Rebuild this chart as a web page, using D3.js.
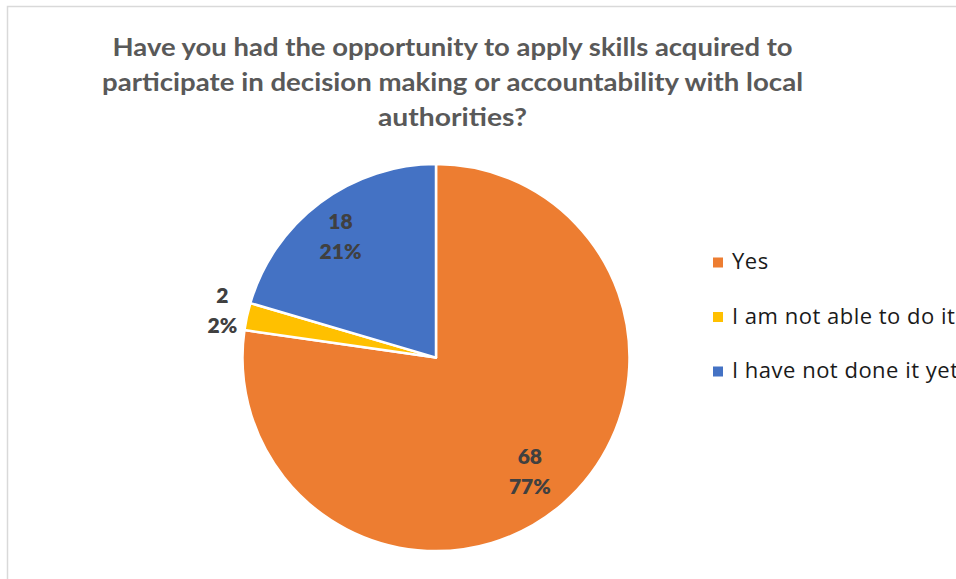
<!DOCTYPE html>
<html>
<head>
<meta charset="utf-8">
<script src="https://cdn.jsdelivr.net/npm/d3@7"></script>
<style>
  html, body { margin: 0; padding: 0; background: #fff; overflow: hidden; }
  svg { display: block; }
</style>
</head>
<body>
<svg id="chart" width="956" height="579"></svg>
<script>
// Survey answers and counts
const categories = ["Yes", "I am not able to do it", "I have not done it yet"];
const counts = [68, 2, 18];
const colors = ["#ED7D31", "#FFC000", "#4472C4"];
const titleLines = [
  "Have you had the opportunity to apply skills acquired to",
  "participate in decision making or accountability with local",
  "authorities?"
];
// slices whose labels sit outside the pie
const outsideLabel = [false, true, false];

// Whole-number percentages that add up to 100 (largest remainder)
function percentLabels(vals) {
  const total = d3.sum(vals);
  const raw = vals.map(v => v / total * 100);
  const fl = raw.map(Math.floor);
  let left = 100 - d3.sum(fl);
  const order = raw.map((r, i) => [r - fl[i], i]).sort((a, b) => b[0] - a[0]);
  for (let k = 0; k < left; k++) fl[order[k][1]] += 1;
  return fl.map(p => p + "%");
}
const percents = percentLabels(counts);

const svg = d3.select("#chart");

// chart frame
svg.append("rect")
  .attr("x", 7.5).attr("y", 6.5)
  .attr("width", 1200).attr("height", 1200)
  .attr("fill", "#fff")
  .attr("stroke", "#d9d9d9").attr("stroke-width", 1.5);

// title
const titleFont = "Lato, 'Open Sans', sans-serif";
const titleWidths = [680, 701, 149];
const title = svg.append("g");
titleLines.forEach((t, i) => {
  title.append("text")
    .attr("x", 452.5)
    .attr("y", 56 + i * 35)
    .attr("text-anchor", "middle")
    .attr("font-family", titleFont)
    .attr("font-weight", 700)
    .attr("font-size", 25)
    .attr("fill", "#595959")
    .attr("textLength", titleWidths[i])
    .attr("lengthAdjust", "spacingAndGlyphs")
    .text(t);
});

// pie
const cx = 436, cy = 357.6, R = 193.5;
const pie = d3.pie().sort(null).value(d => d)
  .startAngle(0).endAngle(2 * Math.PI);
const arcs = pie(counts);
const arc = d3.arc().innerRadius(0).outerRadius(R);
const inArc = d3.arc().innerRadius(R * 0.78).outerRadius(R * 0.78);
const outArc = d3.arc().innerRadius(R * 1.13).outerRadius(R * 1.13);

const g = svg.append("g").attr("transform", `translate(${cx},${cy})`);
g.selectAll("path.slice")
  .data(arcs)
  .join("path")
  .attr("class", "slice")
  .attr("d", arc)
  .attr("fill", (d, i) => colors[i])
  .attr("stroke", "#fff")
  .attr("stroke-width", 2.5)
  .attr("stroke-linejoin", "round");

// data labels: count over percentage
const labelFont = "Lato, 'Open Sans', sans-serif";
const lab = g.selectAll("g.lab")
  .data(arcs)
  .join("g")
  .attr("class", "lab")
  .attr("transform", (d, i) => {
    const c = (outsideLabel[i] ? outArc : inArc).centroid(d);
    return `translate(${c[0] + (outsideLabel[i] ? 0 : -5)},${c[1]})`;
  });
lab.append("text")
  .attr("y", -8)
  .text((d, i) => counts[i]);
lab.append("text")
  .attr("y", 22)
  .text((d, i) => percents[i]);
lab.selectAll("text")
  .attr("text-anchor", "middle")
  .attr("font-family", labelFont)
  .attr("font-weight", 800)
  .attr("font-size", 21)
  .attr("fill", "#404040");

// legend (runs past the right edge of the frame)
const legend = svg.append("g");
categories.forEach((c, i) => {
  const y = 269 + i * 54.5;
  legend.append("rect")
    .attr("x", 713).attr("y", y - 11.5)
    .attr("width", 10).attr("height", 10)
    .attr("fill", colors[i]);
  legend.append("text")
    .attr("x", 732).attr("y", y)
    .attr("font-family", "'Open Sans', sans-serif")
    .attr("font-size", 22)
    .attr("letter-spacing", 0.5)
    .attr("fill", "#1a1a1a")
    .text(c);
});
</script>
</body>
</html>
